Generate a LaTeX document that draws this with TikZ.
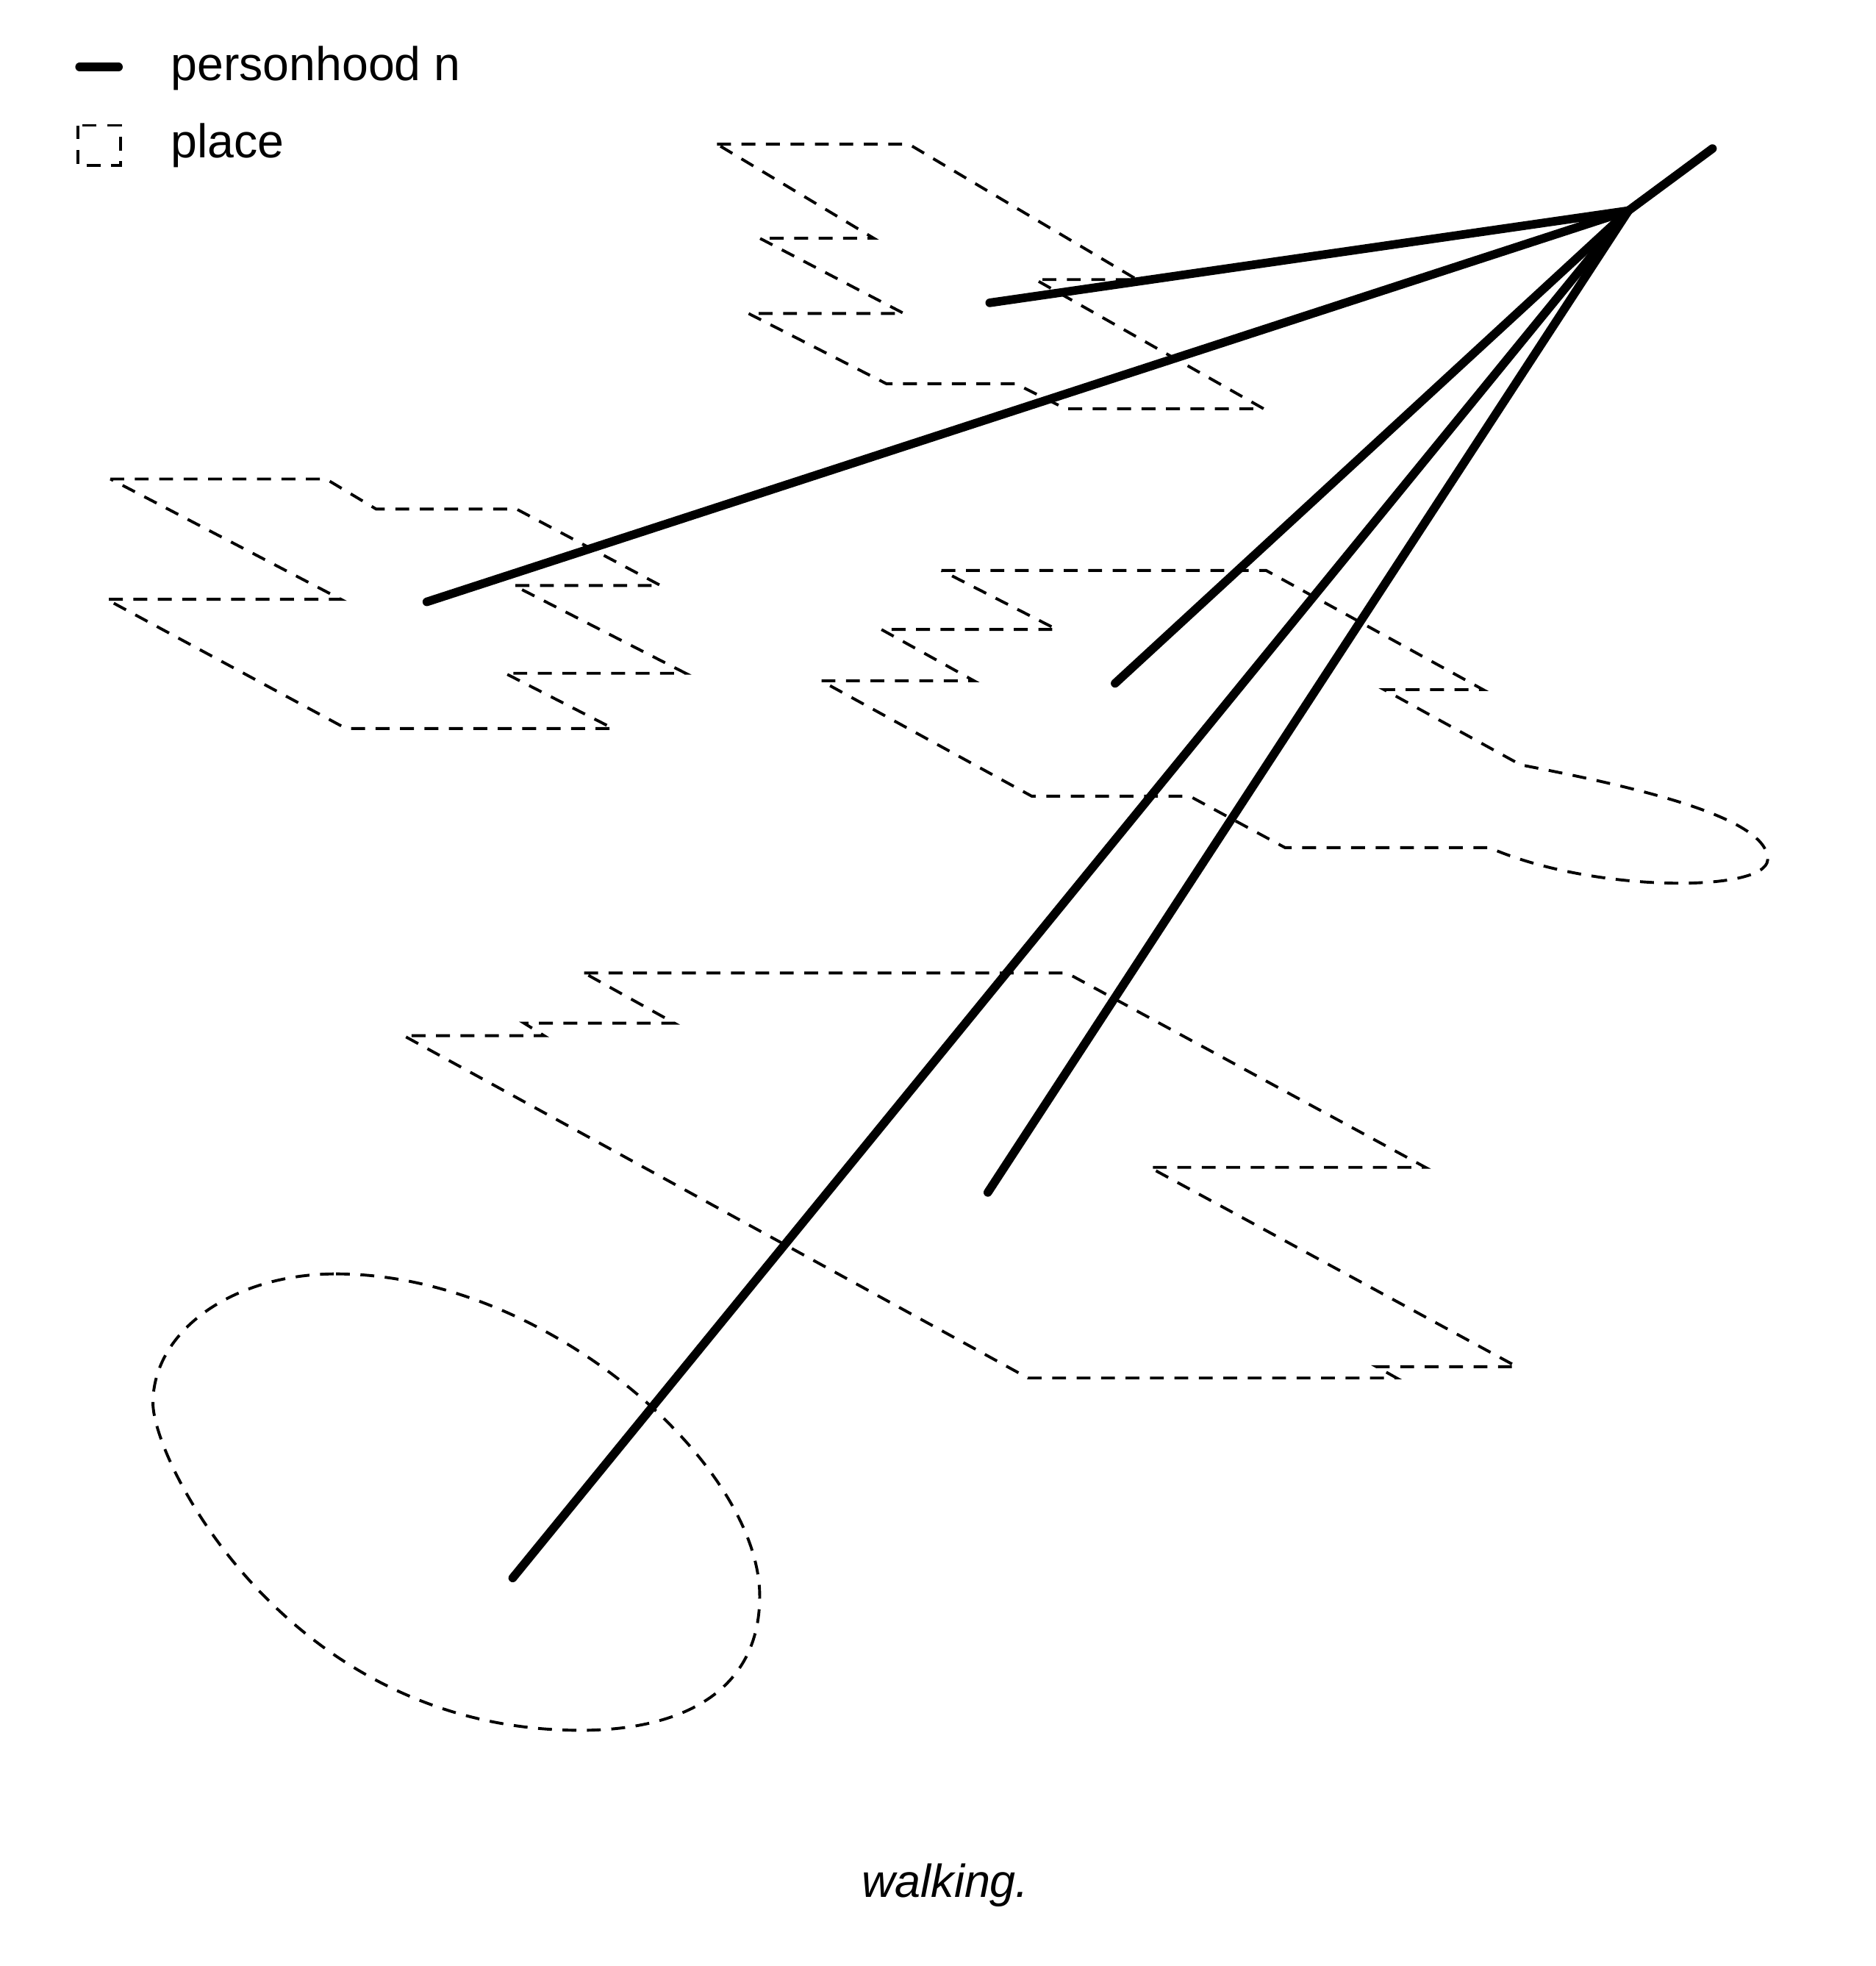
\documentclass[tikz,border=0pt]{standalone}
\usepackage{fontspec}
\setmainfont{Liberation Sans}
\begin{document}
\begin{tikzpicture}[x=0.02cm,y=-0.02cm,
  person/.style={line width=3.9pt,line cap=round},
  placeline/.style={line width=1.3pt,dash pattern=on 6.3pt off 4.8pt,line join=miter},
  legendtext/.style={anchor=base west,inner sep=0pt,font=\fontsize{21.5}{26}\selectfont},
  captiontext/.style={anchor=base,inner sep=0pt,font=\fontsize{21}{25}\selectfont\itshape}]
\useasboundingbox (0,0) rectangle (1496,1568);

% legend
\coordinate (lgA) at (63.5,53.4);
\coordinate (lgB) at (94.5,53.4);
\draw[person] (lgA) -- (lgB);
\node[legendtext] (lgt1) at (136,64.5) {personhood n};
\draw[placeline] (62,100) rectangle (96,132);
\node[legendtext] (lgt2) at (136,126) {place};

% places
\draw[placeline] (572,115) -- (725,115) -- (907,223) -- (826,223) -- (1008,326)
  -- (850,326) -- (810,306) -- (707,306) -- (597,250) -- (721,250) -- (606,190)
  -- (697,190) -- cycle;

\draw[placeline] (88,382) -- (260,382) -- (300,406) -- (412,406) -- (527,467)
  -- (410,467) -- (547,537) -- (403,537) -- (489,581) -- (276,581) -- (85,478)
  -- (272,478) -- cycle;

\draw[placeline] (751,455) -- (1010,455) -- (1183,550) -- (1104,550) -- (1213,610)
  .. controls (1290,625) and (1412,650) .. (1410,686)
  .. controls (1408,712) and (1270,712) .. (1188,676)
  -- (1025,676) -- (949,635) -- (823,635) -- (655,543) -- (777,543) -- (703,502)
  -- (843,502) -- cycle;

\draw[placeline] (466,776) -- (851,776) -- (1137,931) -- (917,931) -- (1210,1090)
  -- (1098,1090) -- (1114,1099) -- (820,1099) -- (322,826) -- (434,826)
  -- (418,816) -- (538,816) -- cycle;

\draw[placeline] (268,1016) .. controls (436,1016) and (606,1168) .. (606,1273)
  .. controls (606,1349) and (544,1380) .. (463,1380)
  .. controls (230,1380) and (122,1166) .. (122,1119)
  .. controls (122,1062) and (185,1016) .. (268,1016) -- cycle;

% personhood lines
\coordinate (hub) at (1299,168);
\coordinate (e1) at (1366,118.5);
\coordinate (e2) at (789.5,241.5);
\coordinate (e3) at (340.5,480);
\coordinate (e4) at (889.5,545);
\coordinate (e5) at (409,1258.5);
\coordinate (e6) at (788,951);
\draw[person] (hub) -- (e1);
\draw[person] (hub) -- (e2);
\draw[person] (hub) -- (e3);
\draw[person] (hub) -- (e4);
\draw[person] (hub) -- (e5);
\draw[person] (hub) -- (e6);

\node[captiontext] (cap) at (754,1513) {walking.};
\end{tikzpicture}
\end{document}
